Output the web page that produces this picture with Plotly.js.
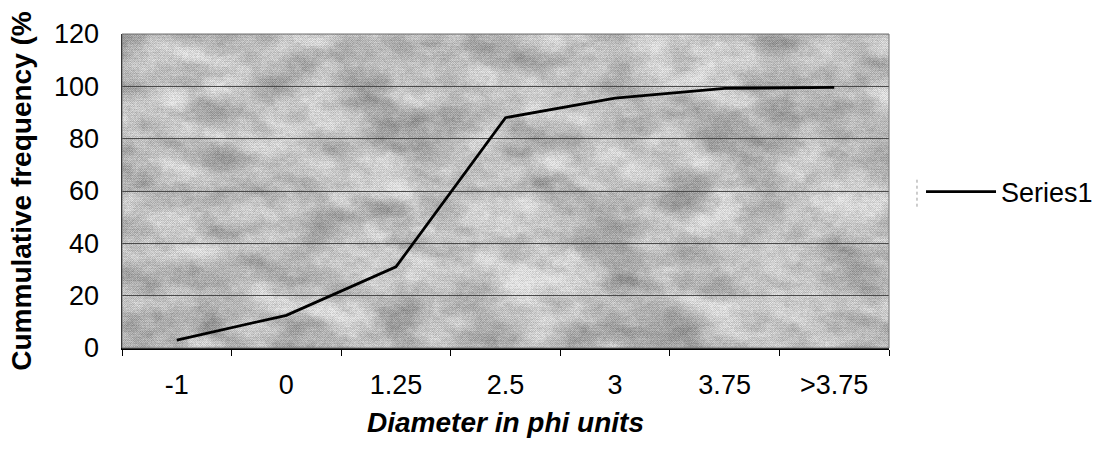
<!DOCTYPE html>
<html>
<head>
<meta charset="utf-8">
<script src="https://cdn.plot.ly/plotly-3.0.1.min.js"></script>
<style>
  html, body { margin: 0; padding: 0; background: #ffffff; }
  #chart { width: 1105px; height: 454px; }
</style>
</head>
<body>
<div id="chart"></div>
<script>
// ---- data ----
const categories = ["-1", "0", "1.25", "2.5", "3", "3.75", ">3.75"];
const series1 = [3, 12.5, 31, 88, 95.5, 99.2, 99.6];
const seriesName = "Series1";
const yTicks = [0, 20, 40, 60, 80, 100, 120];

// ---- decorative mottled background texture (deterministic) ----
function makeTexture(w, h) {
  const c = document.createElement("canvas");
  c.width = w; c.height = h;
  const ctx = c.getContext("2d");
  const img = ctx.createImageData(w, h);
  function hash(i, j, s) {
    let x = (i * 374761393 + j * 668265263 + s * 2147483647) | 0;
    x = Math.imul(x ^ (x >>> 13), 1274126177);
    x = x ^ (x >>> 16);
    return (x >>> 0) / 4294967296;
  }
  function smooth(t) { return t * t * (3 - 2 * t); }
  function noise(x, y, s) {
    const xi = Math.floor(x), yi = Math.floor(y);
    const xf = smooth(x - xi), yf = smooth(y - yi);
    const a = hash(xi, yi, s), b = hash(xi + 1, yi, s);
    const cc = hash(xi, yi + 1, s), d = hash(xi + 1, yi + 1, s);
    return (a * (1 - xf) + b * xf) * (1 - yf) + (cc * (1 - xf) + d * xf) * yf;
  }
  for (let y = 0; y < h; y++) {
    for (let x = 0; x < w; x++) {
      const u = (x + y * 0.7) / 48, v = (y - x * 0.3) / 24;
      let n = 0.55 * noise(u, v, 1) + 0.3 * noise(u * 2.3, v * 2.3, 2) + 0.15 * noise(x / 7, y / 5, 3);
      let g = 186 + (n - 0.5) * 105;
      g += ((x + y) % 2 === 0 ? 10 : -10);
      g += (y % 3 === 0 ? -6 : 3);
      g += (hash(x, y, 7) - 0.5) * 26;
      g = Math.max(120, Math.min(235, g));
      const k = (y * w + x) * 4;
      img.data[k] = img.data[k + 1] = img.data[k + 2] = g;
      img.data[k + 3] = 255;
    }
  }
  ctx.putImageData(img, 0, 0);
  return c.toDataURL("image/png");
}

const plotW = 767, plotH = 314;
const tex = makeTexture(plotW, plotH);

const FONT = "Liberation Sans, Arial, sans-serif";

const trace = {
  x: categories,
  y: series1,
  type: "scatter",
  mode: "lines",
  name: seriesName,
  line: { color: "#000000", width: 2.8 },
  showlegend: true
};

const layout = {
  width: 1105,
  height: 454,
  margin: { l: 122, r: 216, t: 34, b: 106, pad: 0 },
  paper_bgcolor: "#ffffff",
  plot_bgcolor: "#b8b8b8",
  font: { family: FONT, color: "#000000", size: 27 },
  xaxis: {
    type: "category",
    categoryorder: "array",
    categoryarray: categories,
    tickvals: categories,
    ticktext: categories,
    range: [-0.5, categories.length - 0.5],
    tickson: "boundaries",
    ticks: "outside",
    ticklen: 6,
    tickwidth: 1,
    tickcolor: "#000000",
    ticklabelstandoff: 12,
    showline: true,
    linecolor: "#000000",
    linewidth: 1.5,
    showgrid: false,
    zeroline: false,
    tickfont: { family: FONT, size: 27, color: "#000000" },
    title: {
      text: "<b><i>Diameter in phi units</i></b>",
      font: { family: FONT, size: 28, color: "#000000" },
      standoff: 13
    },
    automargin: false,
    fixedrange: true
  },
  yaxis: {
    range: [0, 120],
    tickvals: yTicks,
    ticktext: yTicks.map(String),
    ticks: "",
    ticklabelstandoff: 16,
    showline: true,
    linecolor: "#000000",
    linewidth: 1.5,
    showgrid: true,
    gridcolor: "#4a4a4a",
    gridwidth: 1,
    zeroline: false,
    tickfont: { family: FONT, size: 27, color: "#000000" },
    title: {
      text: "<b>Cummulative frequency (%</b>",
      font: { family: FONT, size: 28, color: "#000000" },
      standoff: 14
    },
    automargin: false,
    fixedrange: true
  },
  images: [{
    source: tex,
    xref: "paper", yref: "paper",
    x: 0, y: 1, sizex: 1, sizey: 1,
    xanchor: "left", yanchor: "top",
    sizing: "stretch",
    layer: "below"
  }],
  shapes: [
    { type: "rect", xref: "paper", yref: "paper", x0: 0, x1: 1, y0: 0, y1: 1,
      line: { color: "#707070", width: 1 }, fillcolor: "rgba(0,0,0,0)", layer: "above" },
    { type: "line", xref: "paper", yref: "paper", x0: 1.0365, x1: 1.0365, y0: 0.45, y1: 0.545,
      line: { color: "#9a9a9a", width: 1, dash: "dot" } }
  ],
  showlegend: true,
  legend: {
    xref: "container", yref: "container",
    x: 0.8335, xanchor: "left",
    y: 0.577, yanchor: "middle",
    bgcolor: "rgba(255,255,255,0)",
    borderwidth: 0,
    font: { family: FONT, size: 27, color: "#000000" },
    itemwidth: 70,
    itemclick: false,
    itemdoubleclick: false
  }
};

Plotly.newPlot("chart", [trace], layout, { displayModeBar: false, staticPlot: true });
</script>
</body>
</html>
